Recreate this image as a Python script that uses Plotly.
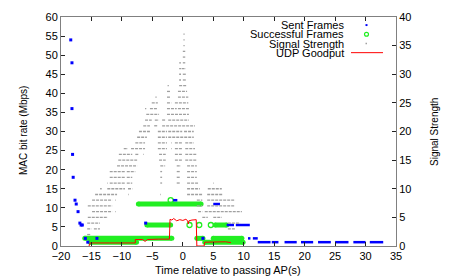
import plotly.graph_objects as go

# ---------------- data ----------------
# Signal strength (right axis): horizontal runs of samples, (level, t_start, t_end)
signal_runs = [
    (37, 0.1, 0.3), (36, 0.1, 0.3), (35, 0.1, 0.3), (34, 0.0, 0.4), (33, 0.0, 0.4),
    (32, -0.6, -0.3), (32, 0.0, 0.4),
    (31, -0.6, -0.3), (31, -0.2, 0.5),
    (30, -0.6, -0.3), (30, 0.0, 0.5),
    (29, -0.6, -0.3), (29, 0.0, 0.5),
    (28, -2.5, -2.3), (28, -0.6, 0.6),
    (27, -2.6, -2.1), (27, -0.8, 0.7),
    (26, -4.5, -4.3), (26, -2.6, -2.1), (26, -0.8, 0.9),
    (25, -5.1, -4.1), (25, -2.6, -1.9), (25, -1.3, 0.9),
    (24, -6.2, -6.0), (24, -5.4, -4.1), (24, -2.6, -1.0), (24, -0.8, 1.0),
    (23, -6.0, -3.9), (23, -2.6, 1.0),
    (22, -6.2, -5.1), (22, -4.6, -3.9), (22, -3.4, -2.9), (22, -2.4, 1.0),
    (21, -6.5, -5.4), (21, -4.7, -4.1), (21, -3.4, 2.0),
    (20, -7.2, -5.4), (20, -4.1, -2.6), (20, -2.4, -0.1), (20, 0.2, 1.8),
    (19, -7.5, -5.9), (19, -4.1, -2.6), (19, -2.4, 1.8),
    (18, -7.8, -6.2), (18, -4.1, -2.6), (18, -1.9, -1.8), (18, -1.3, -0.1), (18, 0.4, 1.8),
    (17, -9.7, -9.0), (17, -8.5, -6.2), (17, -4.1, -2.6), (17, -1.9, -1.8), (17, -1.3, -0.1), (17, 0.4, 2.0),
    (16, -10.5, -8.3), (16, -7.8, -7.2), (16, -6.5, -6.4), (16, -3.9, -2.8), (16, -1.3, -0.1), (16, 0.4, 2.3),
    (15, -10.6, -7.5), (15, -3.9, -2.8), (15, -1.3, -0.1), (15, 0.4, 2.3),
    (14, -10.8, -7.5), (14, -3.7, -2.9), (14, -1.0, -0.3), (14, 0.7, 2.3),
    (13, -12.0, -9.5), (13, -9.2, -7.8), (13, -3.7, -3.4), (13, -1.0, -0.5), (13, 0.7, 2.3),
    (12, -12.0, -9.5), (12, -9.2, -8.3), (12, -3.7, -3.4), (12, -1.0, -0.5), (12, 0.7, 2.3),
    (11, -12.4, -12.3), (11, -12.0, -9.5), (11, -9.2, -8.3), (11, -3.7, -3.4), (11, -1.0, -0.5), (11, 0.7, 2.5), (11, 5.0, 5.1),
    (10, -13.6, -13.3), (10, -12.4, -9.5), (10, -9.0, -8.3), (10, 0.7, 2.8), (10, 4.1, 6.4),
    (9, -14.4, -10.8), (9, -9.0, -8.9), (9, -3.7, -3.6), (9, 0.7, 3.2), (9, 4.0, 6.6),
    (8, -14.9, -11.6), (8, -11.1, -11.0), (8, 2.3, 3.2), (8, 4.0, 8.6),
    (7, -15.6, -11.6), (7, 2.3, 3.2), (7, 4.0, 8.6),
    (6, -14.9, -11.6), (6, -11.1, -11.0), (6, 2.5, 3.2), (6, 3.6, 9.7),
    (5, -15.6, -12.3), (5, 3.2, 4.1), (5, 5.0, 6.4),
    (4, -15.7, -13.6), (4, 7.4, 9.4),
    (3, -15.7, -15.0), (3, -14.6, -13.6), (3, 7.4, 8.6),
    (2, -15.7, -15.2),
]

# Sent frames (left axis, Mbps): isolated frames (time, rate)
sent_t = [-18.4, -18.2, -18.2, -18.1, -18.0, -17.7, -17.5, -17.2, -16.9, -16.7, -16.5,
          -16.0, -15.6, -14.1, -6.1, 3.3]
sent_rate = [54, 48, 36, 24, 18, 12, 11, 9, 6, 5.5, 5.5,
             2, 1, 2, 6, 2]
# Sent frames: dense runs (rate, t_start, t_end)
sent_runs = [
    (12, -1.6, -0.9), (11, 5.0, 6.1),
    (5.5, 7.2, 8.4), (5.5, 8.7, 11.0),
    (2, 10.7, 11.1), (2, 11.5, 12.3),
    (1, 12.3, 14.4), (1, 14.6, 15.7), (1, 16.7, 18.7), (1, 19.4, 21.4),
    (1, 22.2, 24.3), (1, 25.0, 27.2), (1, 28.0, 30.0), (1, 30.7, 32.9),
]

# Successful frames: dense runs (rate, t_start, t_end) and isolated frames
succ_runs = [
    (2, -16.1, -1.8), (1, -15.2, -7.6), (11, -7.3, 3.0), (5.5, -5.9, -2.0),
    (5.5, 5.3, 7.2), (2, 2.3, 3.3), (2, 5.0, 9.7), (1, 3.6, 9.9),
]
succ_t = [-2.0, 1.1, 2.7, 4.6]
succ_rate = [12, 5.5, 5.5, 5.5]

# UDP goodput (Mbps)
goodput_t = [-15.4, -15.2, -12.0, -9.0, -7.8, -7.8, -6.6, -6.2, -5.8, -4.0, -2.2, -2.1,
             -1.8, -1.5, -1.0, -0.5, 0.0, 0.5, 0.8, 0.9, 1.0, 1.5, 2.0, 2.2, 2.3,
             3.5, 3.6, 5.0, 7.0, 7.9]
goodput = [0.0, 0.8, 0.8, 0.8, 0.8, 1.7, 1.7, 1.2, 1.7, 1.8, 1.8, 7.0,
           6.8, 7.2, 6.6, 6.9, 6.7, 7.0, 6.6, 5.8, 6.6, 6.8, 7.0, 6.9, 0.0,
           0.0, 1.0, 1.0, 1.1, 0.9]

x_ticks = [-20, -15, -10, -5, 0, 5, 10, 15, 20, 25, 30, 35]
y_ticks = list(range(0, 61, 5))
y2_ticks = list(range(0, 41, 5))


def runs_to_xy(runs):
    xs, ys = [], []
    for lvl, a, b in runs:
        xs += [a, b, None]
        ys += [lvl, lvl, None]
    return xs, ys


FONT = "Liberation Sans, Arial, sans-serif"
BLUE = "#0000ff"
GREEN = "#22ee22"
GRAY = "#a0a0a0"
RED = "#ff0000"

fig = go.Figure()

gx, gy = runs_to_xy(signal_runs)
fig.add_trace(go.Scatter(x=gx, y=gy, yaxis="y2", mode="lines",
                         line=dict(color=GRAY, width=1.3, dash="3px,1px"),
                         showlegend=False, hoverinfo="skip"))

sx, sy = runs_to_xy(succ_runs)
fig.add_trace(go.Scatter(x=sx, y=sy, mode="lines+markers",
                         line=dict(color=GREEN, width=5),
                         marker=dict(symbol="circle", size=5, color=GREEN),
                         showlegend=False, hoverinfo="skip"))
fig.add_trace(go.Scatter(x=succ_t, y=succ_rate, mode="markers",
                         marker=dict(symbol="circle-open", size=5, color=GREEN,
                                     line=dict(width=1.3, color=GREEN)),
                         showlegend=False, hoverinfo="skip"))

bx, by = runs_to_xy(sent_runs)
fig.add_trace(go.Scatter(x=bx, y=by, mode="lines",
                         line=dict(color=BLUE, width=2.5),
                         showlegend=False, hoverinfo="skip"))
fig.add_trace(go.Scatter(x=sent_t, y=sent_rate, mode="markers",
                         marker=dict(symbol="square", size=3, color=BLUE, line=dict(width=0)),
                         showlegend=False, hoverinfo="skip"))

fig.add_trace(go.Scatter(x=goodput_t, y=goodput, mode="lines",
                         line=dict(color=RED, width=1),
                         showlegend=False, hoverinfo="skip"))

axis_common = dict(showgrid=False, zeroline=False, showline=True, linecolor="#808080",
                   linewidth=1, ticks="inside", ticklen=4, tickcolor="#222",
                   tickfont=dict(family=FONT, size=11, color="black"))

fig.update_layout(
    width=457, height=277,
    margin=dict(l=61, r=61, t=11, b=31),
    paper_bgcolor="white", plot_bgcolor="white",
    showlegend=False,
    xaxis=dict(range=[-20, 35], tickvals=x_ticks, mirror="ticks", **axis_common),
    yaxis=dict(range=[0, 60], tickvals=y_ticks, **axis_common),
    yaxis2=dict(range=[0, 40], tickvals=y2_ticks, overlaying="y", side="right", **axis_common),
)

W, H = 335.0, 235.0
def px(xp):
    return (xp - 61) / W
def py(yp):
    return (246 - yp) / H

annots = [
    dict(text="Time relative to passing AP(s)", x=px(228), y=py(270.5), xref="paper", yref="paper",
         showarrow=False, xanchor="center", yanchor="middle", font=dict(family=FONT, size=11, color="black")),
    dict(text="MAC bit rate (Mbps)", x=px(23), y=py(128), xref="paper", yref="paper", textangle=-90,
         showarrow=False, xanchor="center", yanchor="middle", font=dict(family=FONT, size=10, color="black")),
    dict(text="Signal Strength", x=px(435), y=py(129), xref="paper", yref="paper", textangle=-90,
         showarrow=False, xanchor="center", yanchor="middle", font=dict(family=FONT, size=10, color="black")),
]
legend_labels = ["Sent Frames", "Successful Frames", "Signal Strength", "UDP Goodput"]
legend_y = [19.3, 28.7, 38.2, 47.6]
for lab, yy in zip(legend_labels, legend_y):
    annots.append(dict(text=lab, x=px(345), y=py(yy), xref="paper", yref="paper", showarrow=False,
                       xanchor="right", yanchor="middle", borderpad=0,
                       font=dict(family=FONT, size=11, color="black")))
fig.update_layout(annotations=annots)

shapes = [
    dict(type="rect", xref="paper", yref="paper", x0=px(365.5), x1=px(367.5), y0=py(20.3), y1=py(18.3),
         fillcolor=BLUE, line=dict(width=0)),
    dict(type="circle", xref="paper", yref="paper", x0=px(364.5), x1=px(368.5), y0=py(30.7), y1=py(26.7),
         line=dict(color=GREEN, width=1.2)),
    dict(type="rect", xref="paper", yref="paper", x0=px(365.5), x1=px(367), y0=py(38.9), y1=py(37.4),
         fillcolor=GRAY, line=dict(width=0)),
    dict(type="line", xref="paper", yref="paper", x0=px(351), x1=px(383), y0=py(47.6), y1=py(47.6),
         line=dict(color=RED, width=1)),
]
fig.update_layout(shapes=shapes)

fig.write_html("out.html", config={"displayModeBar": False},
               post_script="document.body.style.margin='0';document.body.style.padding='0';")
